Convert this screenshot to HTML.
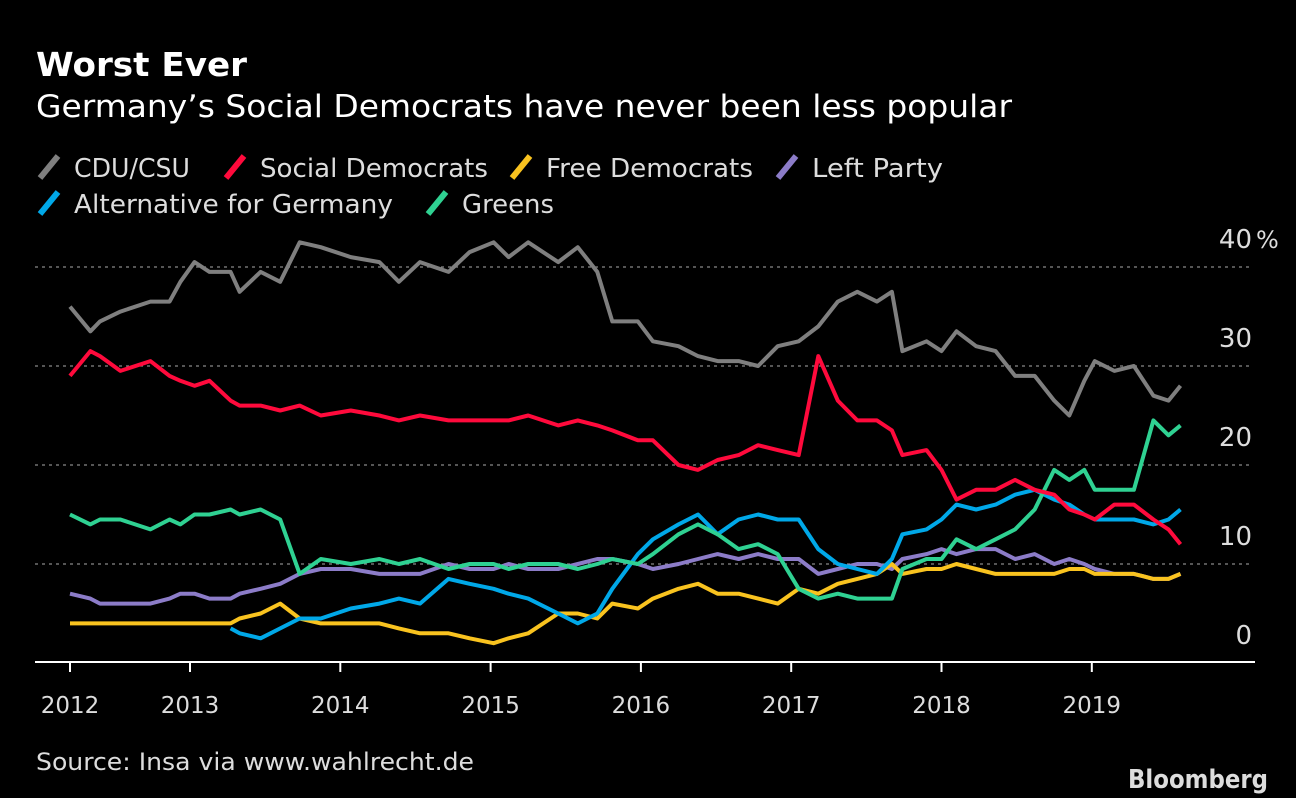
<!DOCTYPE html>
<html><head><meta charset="utf-8">
<style>
body{margin:0;background:#000;width:1296px;height:798px;overflow:hidden;font-family:"DejaVu Sans","Liberation Sans",sans-serif;color:#fff;}
svg{position:absolute;left:0;top:0;font-family:"DejaVu Sans","Liberation Sans",sans-serif}
</style></head>
<body>
<svg id="c" width="1296" height="798">
<text x="36" y="76" font-size="33" font-weight="bold" fill="#fff" textLength="211" lengthAdjust="spacingAndGlyphs">Worst Ever</text>
<text x="36" y="117" font-size="31" fill="#fff" textLength="976" lengthAdjust="spacingAndGlyphs">Germany’s Social Democrats have never been less popular</text>
<text x="36" y="770" font-size="24" fill="#ddd" textLength="438" lengthAdjust="spacingAndGlyphs">Source: Insa via www.wahlrecht.de</text>
<text x="1268" y="788" font-size="26" font-weight="bold" fill="#ddd" text-anchor="end" textLength="140" lengthAdjust="spacingAndGlyphs">Bloomberg</text>
<text x="1256" y="248" font-size="24" fill="#ddd">%</text>
<g id="legend"></g>
<g id="grid"></g>
<g id="lines"></g>
</svg>
<script>
const dates=[2012.0,2012.17,2012.25,2012.42,2012.67,2012.83,2012.92,2013.03,2013.13,2013.27,2013.33,2013.47,2013.6,2013.73,2013.87,2014.07,2014.26,2014.39,2014.53,2014.72,2014.86,2015.02,2015.12,2015.25,2015.45,2015.58,2015.71,2015.81,2015.98,2016.08,2016.25,2016.38,2016.51,2016.65,2016.78,2016.91,2017.05,2017.18,2017.31,2017.44,2017.57,2017.67,2017.74,2017.9,2018.0,2018.1,2018.23,2018.36,2018.49,2018.62,2018.75,2018.85,2018.95,2019.02,2019.15,2019.28,2019.41,2019.51,2019.59];
const cdu=[36,33.5,34.5,35.5,36.5,36.5,38.5,40.5,39.5,39.5,37.5,39.5,38.5,42.5,42,41,40.5,38.5,40.5,39.5,41.5,42.5,41,42.5,40.5,42,39.5,34.5,34.5,32.5,32,31,30.5,30.5,30,32,32.5,34,36.5,37.5,36.5,37.5,31.5,32.5,31.5,33.5,32,31.5,29,29,26.5,25,28.5,30.5,29.5,30,27,26.5,28];
const spd=[29,31.5,31,29.5,30.5,29,28.5,28,28.5,26.5,26,26,25.5,26,25,25.5,25,24.5,25,24.5,24.5,24.5,24.5,25,24,24.5,24,23.5,22.5,22.5,20,19.5,20.5,21,22,21.5,21,31,26.5,24.5,24.5,23.5,21,21.5,19.5,16.5,17.5,17.5,18.5,17.5,17,15.5,15,14.5,16,16,14.5,13.5,12];
const fdp=[4,4,4,4,4,4,4,4,4,4,4.5,5,6,4.5,4,4,4,3.5,3,3,2.5,2,2.5,3,5,5,4.5,6,5.5,6.5,7.5,8,7,7,6.5,6,7.5,7,8,8.5,9,10,9,9.5,9.5,10,9.5,9,9,9,9,9.5,9.5,9,9,9,8.5,8.5,9];
const left=[7,6.5,6,6,6,6.5,7,7,6.5,6.5,7,7.5,8,9,9.5,9.5,9,9,9,10,9.5,9.5,10,9.5,9.5,10,10.5,10.5,10,9.5,10,10.5,11,10.5,11,10.5,10.5,9,9.5,10,10,9.5,10.5,11,11.5,11,11.5,11.5,10.5,11,10,10.5,10,9.5,9,9,8.5,8.5,9];
const afd=[null,null,null,null,null,null,null,null,null,3.5,3,2.5,3.5,4.5,4.5,5.5,6,6.5,6,8.5,8,7.5,7,6.5,5,4,5,7.5,11,12.5,14,15,13,14.5,15,14.5,14.5,11.5,10,9.5,9,10.5,13,13.5,14.5,16,15.5,16,17,17.5,16.5,16,15,14.5,14.5,14.5,14,14.5,15.5];
const greens=[15,14,14.5,14.5,13.5,14.5,14,15,15,15.5,15,15.5,14.5,9,10.5,10,10.5,10,10.5,9.5,10,10,9.5,10,10,9.5,10,10.5,10,11,13,14,13,11.5,12,11,7.5,6.5,7,6.5,6.5,6.5,9.5,10.5,10.5,12.5,11.5,12.5,13.5,15.5,19.5,18.5,19.5,17.5,17.5,17.5,24.5,23,24];
const yTicks=[0,10,20,30,40];
const yearTicks=[2012,2013,2014,2015,2016,2017,2018,2019];
const NS="http://www.w3.org/2000/svg";
function X(t){ if(t<2013) return 70+(t-2012)*120; return 190+(t-2013)*150.3; }
function Y(v){ return 663-v*9.9; }
function mk(tag,attrs,parent,txt){const e=document.createElementNS(NS,tag);for(const k in attrs)e.setAttribute(k,attrs[k]);if(txt!==undefined)e.textContent=txt;parent.appendChild(e);return e;}
const grid=document.getElementById('grid');
yTicks.forEach(v=>{
  if(v>0){const l=mk('line',{x1:35,x2:1252,y1:Y(v),y2:Y(v),stroke:'#888','stroke-width':1.3,'stroke-dasharray':'3,4'},grid);
  
  }
  const t=mk('text',{x:1252,y:Y(v)-19,'font-size':26,fill:'#ddd','text-anchor':'end'},grid,String(v));
  
  
});
const ax=mk('line',{x1:35,x2:1255,y1:662,y2:662,stroke:'#fff','stroke-width':2},grid);


yearTicks.forEach(y=>{
  const tk=mk('line',{x1:X(y),x2:X(y),y1:662,y2:672,stroke:'#fff','stroke-width':2},grid);
  
  
  const t=mk('text',{x:X(y),y:713,'font-size':23,fill:'#ddd','text-anchor':'middle'},grid,String(y));
  
  
});
const series=[
 ['left-party',left,'#8c7cc8'],['free-democrats',fdp,'#f9c31f'],['afd',afd,'#00a8e8'],
 ['greens',greens,'#2fd192'],['social-democrats',spd,'#ff0a3c'],['cdu-csu',cdu,'#7f7f7f']];
const lines=document.getElementById('lines');
series.forEach(([n,vals,c])=>{
  let d='';let pen=false;
  vals.forEach((v,i)=>{ if(v===null){pen=false;return;} d+=(pen?'L':'M')+X(dates[i]).toFixed(1)+','+Y(v).toFixed(1);pen=true;});
  const p=mk('path',{d:d,fill:'none',stroke:c,'stroke-width':4,'stroke-linejoin':'round'},lines);
  
  
});
const legend=document.getElementById('legend');
const legItems=[['CDU/CSU','#7f7f7f',40,168,116],['Social Democrats','#ff0a3c',226,168,228],['Free Democrats','#f9c31f',512,168,207],['Left Party','#8c7cc8',778,168,131],['Alternative for Germany','#00a8e8',40,204,319],['Greens','#2fd192',428,204,92]];
legItems.forEach(([lab,c,x,y,w])=>{
  const g=mk('g',{},legend);
  
  
  mk('line',{x1:x,y1:y+10,x2:x+18,y2:y-12,stroke:c,'stroke-width':6},g);
  mk('text',{x:x+34,y:y+9,'font-size':26,fill:'#ddd',textLength:w,lengthAdjust:'spacingAndGlyphs'},g,lab);
});
</script>
</body></html>
